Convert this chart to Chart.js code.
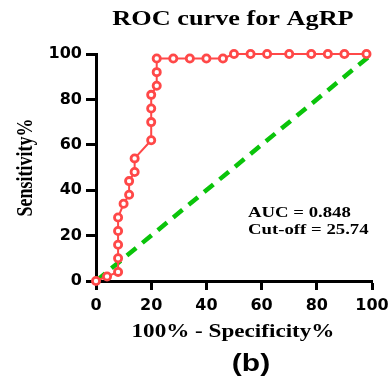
<!DOCTYPE html>
<html>
<head>
<meta charset="utf-8">
<script src="https://cdn.jsdelivr.net/npm/chart.js@4"></script>
<style>
html,body{margin:0;padding:0;background:#fff;}
#wrap{width:390px;height:382px;}
</style>
</head>
<body>
<div id="wrap"><canvas id="c" width="390" height="382"></canvas></div>
<script>
// ---- data ----
const fprValues = [0,4,8,8,8,8,8,10,12,12,14,14,20,20,20,20,22,22,22,28,34,40,46,50,56,62,70,78,84,90,98];
const sensValues = [0,2,4,10,16,22,28,34,38,44,48,54,62,70,76,82,86,92,98,98,98,98,98,100,100,100,100,100,100,100,100];
const refX = [0,100];
const refY = [0,100];
const tickValues = [0,20,40,60,80,100];
const titleText = "ROC curve for AgRP";
const xTitle = "100% - Specificity%";
const yTitle = "Sensitivity%";
const statLines = ["AUC = 0.848","Cut-off = 25.74"];
const panelLabel = "(b)";

const rocPts = fprValues.map((x,i)=>({x:x,y:sensValues[i]}));
const refPts = refX.map((x,i)=>({x:x,y:refY[i]}));

const SX = 1.25; // horizontal stretch of the reference image text

const textPlugin = {
  id:'texts',
  afterDraw(chart){
    const ctx = chart.ctx;
    const a = chart.chartArea;
    const cx = (a.left+a.right)/2;
    ctx.save();
    ctx.fillStyle = '#000';
    // title
    ctx.save();
    ctx.translate(cx-1, 25);
    ctx.scale(SX,1);
    ctx.font = 'bold 21px "Liberation Serif", "Times New Roman", serif';
    ctx.textAlign = 'center'; ctx.textBaseline = 'alphabetic';
    ctx.fillText(titleText,0,0);
    ctx.restore();
    // x title
    ctx.save();
    ctx.translate(cx-1, 337);
    ctx.scale(SX,1);
    ctx.font = 'bold 18.5px "Liberation Serif", "Times New Roman", serif';
    ctx.textAlign = 'center'; ctx.textBaseline = 'alphabetic';
    ctx.fillText(xTitle,0,0);
    ctx.restore();
    // y title
    ctx.save();
    ctx.translate(32, (a.top+a.bottom)/2);
    ctx.scale(SX,1);
    ctx.rotate(-Math.PI/2);
    ctx.font = 'bold 18px "Liberation Serif", "Times New Roman", serif';
    ctx.textAlign = 'center'; ctx.textBaseline = 'alphabetic';
    ctx.fillText(yTitle,0,0);
    ctx.restore();
    // stats
    ctx.font = 'bold 15px "Liberation Serif", "Times New Roman", serif';
    ctx.textAlign = 'left'; ctx.textBaseline = 'alphabetic';
    statLines.forEach((s,i)=>{
      ctx.save();
      ctx.translate(248, 217 + i*17);
      ctx.scale(SX,1);
      ctx.fillText(s,0,0);
      ctx.restore();
    });
    // panel label
    ctx.save();
    ctx.translate(251, 371);
    ctx.scale(SX,1);
    ctx.font = 'bold 24px "Liberation Sans", Arial, sans-serif';
    ctx.textAlign = 'center'; ctx.textBaseline = 'alphabetic';
    ctx.fillText(panelLabel,0,0);
    ctx.restore();
    ctx.restore();
  }
};

const tickFont = {family:'"DejaVu Sans", sans-serif', size:16, weight:'bold'};

new Chart(document.getElementById('c'), {
  type:'scatter',
  data:{
    datasets:[
      {
        label:'ROC',
        data:rocPts,
        showLine:true,
        borderColor:'rgb(255,72,72)',
        borderWidth:2,
        pointRadius:3.6,
        pointBorderWidth:2.8,
        pointBackgroundColor:'#fff',
        pointBorderColor:'rgb(255,72,72)',
        clip:false,
        order:0
      },
      {
        label:'Reference',
        data:refPts,
        showLine:true,
        borderColor:'rgb(10,196,10)',
        borderWidth:4.5,
        borderDash:[12,8],
        borderCapStyle:'butt',
        pointRadius:0,
        clip:false,
        order:1
      }
    ]
  },
  options:{
    responsive:false,
    animation:false,
    devicePixelRatio:1,
    layout:{padding:{left:0,right:18,top:54,bottom:0}},
    plugins:{legend:{display:false},tooltip:{enabled:false},title:{display:false}},
    scales:{
      x:{
        type:'linear', min:0, max:100,
        afterBuildTicks(s){ s.ticks = tickValues.map(v=>({value:v})); },
        afterFit(s){ s.height = 101; s.paddingLeft = 0; s.paddingRight = 0; },
        grid:{drawOnChartArea:false, drawTicks:true, tickLength:9, tickWidth:3, tickColor:'#000'},
        border:{display:true, color:'#000', width:3},
        ticks:{color:'#000', font:tickFont, padding:6, maxRotation:0}
      },
      y:{
        type:'linear', min:0, max:100,
        afterBuildTicks(s){ s.ticks = tickValues.map(v=>({value:v})); },
        afterFit(s){ s.width = 96; s.paddingTop = 0; s.paddingBottom = 0; },
        grid:{drawOnChartArea:false, drawTicks:true, tickLength:10, tickWidth:3, tickColor:'#000'},
        border:{display:true, color:'#000', width:3},
        ticks:{color:'#000', font:tickFont, padding:4}
      }
    }
  },
  plugins:[textPlugin]
});
</script>
</body>
</html>
